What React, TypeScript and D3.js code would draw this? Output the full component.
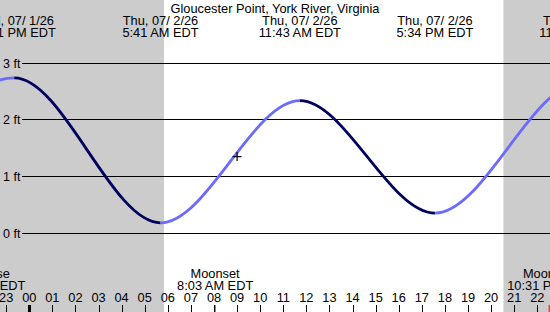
import React from "react";
import * as d3 from "d3";

const title = "Gloucester Point, York River, Virginia";
const tideTimes = ["2026-07-01 17:10", "2026-07-01 23:21", "2026-07-02 05:41", "2026-07-02 11:43", "2026-07-02 17:34", "2026-07-02 23:53", "2026-07-03 06:05"];
const tideHeights = [0.3, 2.74, 0.18, 2.34, 0.35, 2.65, 0.2];
const nightStarts = ["2026-07-01 20:33", "2026-07-02 20:32"];
const nightEnds = ["2026-07-02 05:50", "2026-07-03 05:51"];
const moonTimes = ["2026-07-01 22:01", "2026-07-02 08:03", "2026-07-02 22:31"];
const moonLabels = ["Moonrise", "Moonset", "Moonrise"];
const yTicks = [0, 1, 2, 3];
const nowTime = "2026-07-02 09:00";
const nowHeight = 1.35;
const viewStart = "2026-07-01 22:44";
const viewEnd = "2026-07-02 22:33";

const W = 550;
const H = 312;
const FONT = "'Liberation Sans', Arial, sans-serif";
const RISE = "#6b6bff";
const FALL = "#00005e";

const parse = d3.timeParse("%Y-%m-%d %H:%M");
const fmtDate = d3.timeFormat("%a, %m/%e/%y");
const fmtTime = d3.timeFormat("%-I:%M %p EDT");
const fmtHour = d3.timeFormat("%H");

export default function App() {
  const x = d3.scaleTime().domain([parse(viewStart)!, parse(viewEnd)!]).range([0, W]);
  const y = d3.scaleLinear().domain([0, 3]).range([233, 63.2]);

  const tides = tideTimes.map((t, i) => ({ t: parse(t)!, v: tideHeights[i] }));
  const line = d3
    .line<{ t: Date; v: number }>()
    .x((d) => x(d.t))
    .y((d) => y(d.v))
    .curve(d3.curveMonotoneX);
  const pathD = line(tides) || "";

  const hours = d3.timeHour.range(x.domain()[0], x.domain()[1]);
  const visible = (px: number) => px > -60 && px < W + 60;

  return (
    <svg
      width={W}
      height={H}
      style={{ position: "absolute", left: 0, top: 0, fontFamily: FONT }}
    >
      <rect x={0} y={0} width={W} height={H} fill="#ffffff" />
      {nightStarts.map((s, i) => {
        const x0 = x(parse(s)!);
        const x1 = x(parse(nightEnds[i])!);
        return <rect key={i} x={x0} y={0} width={x1 - x0} height={H} fill="#cccccc" />;
      })}

      {/* grid */}
      {yTicks.map((v) => (
        <g key={v}>
          <line x1={22} x2={W} y1={y(v)} y2={y(v)} stroke="#000" strokeWidth={1} shapeRendering="crispEdges" />
          <text x={3} y={y(v)} dy="0.36em" fontSize={12.5} fill="#000">
            {`${v} ft`}
          </text>
        </g>
      ))}

      <defs>
        {tides.slice(0, -1).map((d, i) => (
          <clipPath id={`seg${i}`} key={i}>
            <rect x={x(d.t)} y={0} width={x(tides[i + 1].t) - x(d.t)} height={H} />
          </clipPath>
        ))}
      </defs>
      {tides.slice(0, -1).map((d, i) => (
        <path
          key={i}
          d={pathD}
          clipPath={`url(#seg${i})`}
          fill="none"
          stroke={tides[i + 1].v > d.v ? RISE : FALL}
          strokeWidth={2.8}
        />
      ))}

      {/* now marker */}
      <g stroke="#000" strokeWidth={1.2}>
        <line x1={x(parse(nowTime)!) - 4.5} x2={x(parse(nowTime)!) + 4.5} y1={y(nowHeight)} y2={y(nowHeight)} />
        <line x1={x(parse(nowTime)!)} x2={x(parse(nowTime)!)} y1={y(nowHeight) - 4.5} y2={y(nowHeight) + 4.5} />
      </g>

      {/* title + tide labels */}
      <text x={W / 2} y={13} textAnchor="middle" fontSize={12.8} fill="#000">
        {title}
      </text>
      {tides
        .filter((d) => visible(x(d.t)))
        .map((d, i) => (
          <g key={i}>
            <text x={x(d.t)} y={25} textAnchor="middle" fontSize={12.8} fill="#000">
              {fmtDate(d.t)}
            </text>
            <text x={x(d.t)} y={37} textAnchor="middle" fontSize={12.8} fill="#000">
              {fmtTime(d.t)}
            </text>
          </g>
        ))}

      {/* moon labels */}
      {moonTimes.map((m, i) => {
        const t = parse(m)!;
        return (
          <g key={i}>
            <text x={x(t)} y={278} textAnchor="middle" fontSize={12.8} fill="#000">
              {moonLabels[i]}
            </text>
            <text x={x(t)} y={290} textAnchor="middle" fontSize={12.8} fill="#000">
              {fmtTime(t)}
            </text>
            <line x1={x(t)} x2={x(t)} y1={305} y2={312} stroke="#ff0000" strokeWidth={1} />
          </g>
        );
      })}

      {/* hour axis */}
      {hours.map((h, i) => {
        const hx = Math.round(x(h)) + 0.5;
        const midnight = h.getHours() === 0;
        return (
          <g key={i}>
            <text x={x(h)} y={302} textAnchor="middle" fontSize={12.8} fill="#000">
              {fmtHour(h)}
            </text>
            <line x1={hx} x2={hx} y1={305} y2={312} stroke="#000" strokeWidth={midnight ? 3 : 1} />
          </g>
        );
      })}
    </svg>
  );
}
